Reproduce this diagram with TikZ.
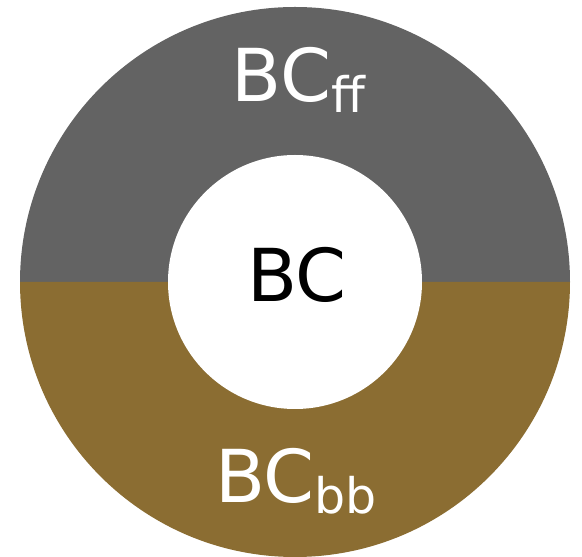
\documentclass[tikz,border=0pt]{standalone}
\usepackage{fontspec}
\setmainfont{DejaVu Sans}
\definecolor{topgray}{HTML}{636363}
\definecolor{botbrown}{HTML}{8B6D32}
\tikzset{
  lbl/.style={inner sep=0pt, anchor=base, font=\fontsize{73}{73}\selectfont},
}
\newcommand{\mysub}[1]{\raisebox{-10.5pt}{\fontsize{49}{49}\selectfont #1}}
\begin{document}
\begin{tikzpicture}[x=1pt,y=1pt]
\useasboundingbox (0,0) rectangle (582,557);
\coordinate (c) at (295,275);
\fill[topgray] (c) ++(-275,0) arc (180:0:275) -- cycle;
\fill[botbrown] (c) ++(-275,0) arc (180:360:275) -- cycle;
\fill[white] (c) circle (127);
\node[lbl, text=white] (ff) at (298,455) {BC\mysub{ff}};
\node[lbl, text=black] (bc) at (297,255) {BC};
\node[lbl, text=white] (bb) at (296,54) {BC\mysub{bb}};
\end{tikzpicture}
\end{document}
